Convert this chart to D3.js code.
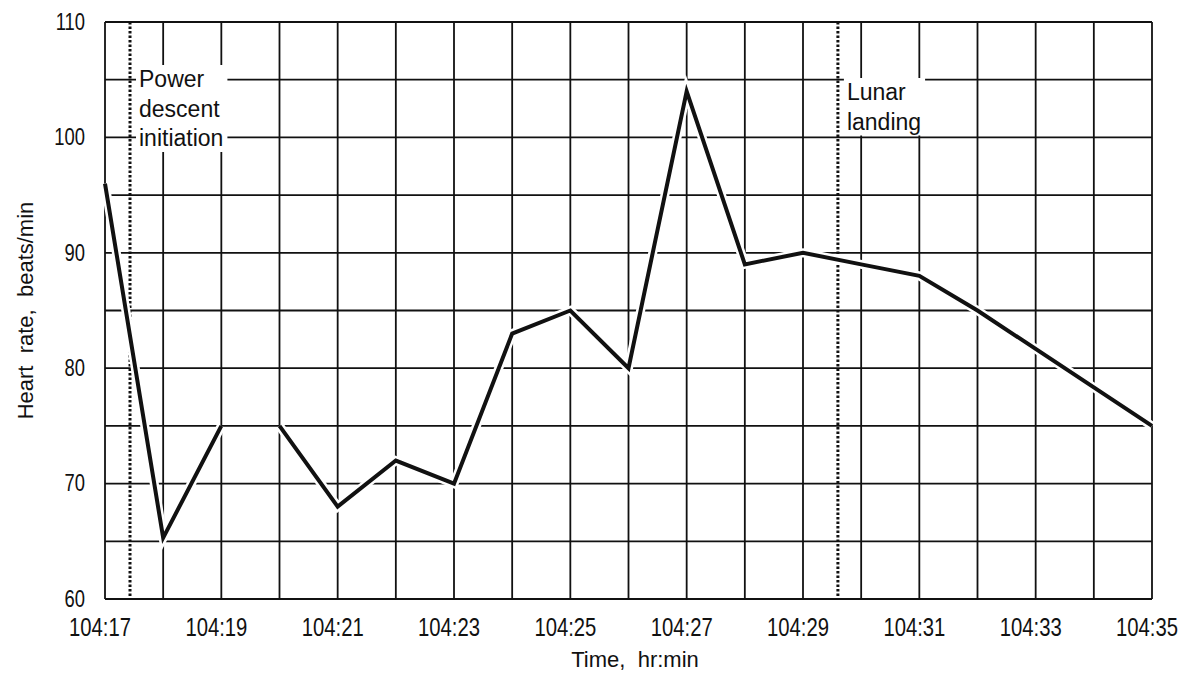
<!DOCTYPE html>
<html>
<head>
<meta charset="utf-8">
<script src="https://cdn.jsdelivr.net/npm/d3@7"></script>
<style>
  body { margin: 0; background: #fff; }
  text { font-family: "Liberation Sans", Arial, sans-serif; fill: #111; }
</style>
</head>
<body>
<div id="chart"></div>
<script>
// minutes past 104:17
const minutes = [0, 1, 2, 3, 4, 5, 6, 7, 8, 9, 10, 11, 12, 13, 14, 15, 18];
const heartRate = [96, 65.3, 75, 75, 68, 72, 70, 83, 85, 80, 104, 89, 90, 89, 88, 85, 75];
const gapAfter = 2; // no reading between 104:19 and 104:20
const xTickLabels = ["104:17", "104:19", "104:21", "104:23", "104:25", "104:27", "104:29", "104:31", "104:33", "104:35"];
const yTicks = [60, 70, 80, 90, 100, 110];
const eventTimes = [0.43, 12.6];
const eventLabels = [["Power", "descent", "initiation"], ["Lunar", "landing"]];

const data = minutes.map((m, i) => ({ m: m, v: heartRate[i] }));
data.splice(gapAfter + 1, 0, { m: gapAfter + 0.5, v: null });

let width = 1180, height = 675, margin = { top: 22, right: 28, bottom: 76, left: 105 };
let w = width - margin.left - margin.right, h = height - margin.top - margin.bottom;

let svg = d3.select("#chart").append("svg")
    .attr("width", width)
    .attr("height", height)
    .append("g")
    .attr("transform", `translate(${margin.left},${margin.top})`);

let x = d3.scaleLinear().domain([0, 18]).range([0, w]);
let y = d3.scaleLinear().domain([60, 110]).range([h, 0]);

// grid
svg.append("g").selectAll("line")
    .data(d3.range(0, 19))
    .enter().append("line")
    .attr("x1", d => x(d)).attr("x2", d => x(d))
    .attr("y1", 0).attr("y2", h)
    .attr("stroke", "#111").attr("stroke-width", 1.8);

svg.append("g").selectAll("line")
    .data(d3.range(60, 111, 5))
    .enter().append("line")
    .attr("x1", 0).attr("x2", w)
    .attr("y1", d => y(d)).attr("y2", d => y(d))
    .attr("stroke", "#111").attr("stroke-width", 1.8);

// event markers
let labelTop = [65, 78];
eventTimes.forEach((t0, k) => {
    svg.append("line")
        .attr("x1", x(t0)).attr("x2", x(t0))
        .attr("y1", 0).attr("y2", h)
        .attr("stroke", "#111").attr("stroke-width", 3)
        .attr("stroke-dasharray", "2.5,2");
    let g = svg.append("g").attr("transform", `translate(${x(t0) + 9},${labelTop[k]})`);
    let t = g.append("text").attr("font-size", 23);
    t.selectAll("tspan").data(eventLabels[k]).enter().append("tspan")
        .attr("x", 0).attr("dy", (d, i) => i === 0 ? 0 : 29.5)
        .text(d => d);
    let bb = t.node().getBBox();
    g.insert("rect", "text")
        .attr("x", bb.x - 3).attr("y", bb.y - 1)
        .attr("width", bb.width + 7).attr("height", bb.height + 2)
        .attr("fill", "#fff");
});

// data line with white halo
let line = d3.line()
    .defined(d => d.v !== null)
    .x(d => x(d.m))
    .y(d => y(d.v));

svg.append("path").datum(data)
    .attr("fill", "none").attr("stroke", "#fff").attr("stroke-width", 9)
    .attr("d", line);
svg.append("path").datum(data)
    .attr("fill", "none").attr("stroke", "#111").attr("stroke-width", 4)
    .attr("d", line);

// axes (narrow lettering like the original)
let xAxis = d3.axisBottom(x)
    .tickValues(d3.range(0, 19, 2))
    .tickFormat((d, i) => xTickLabels[i])
    .tickSize(0).tickPadding(19);
let gx = svg.append("g").attr("transform", `translate(0,${h})`).call(xAxis);
gx.select(".domain").remove();
gx.selectAll("text")
    .attr("font-size", 26).attr("fill", "#111")
    .attr("dx", -7)
    .attr("transform", "scale(0.78,1)");

let yAxis = d3.axisLeft(y).tickValues(yTicks).tickSize(0).tickPadding(25);
let gy = svg.append("g").call(yAxis);
gy.select(".domain").remove();
gy.selectAll("text")
    .attr("font-size", 23).attr("fill", "#111")
    .attr("transform", "scale(0.8,1)");

svg.append("text")
    .attr("x", 530).attr("y", h + 68)
    .attr("text-anchor", "middle").attr("font-size", 22)
    .style("white-space", "pre")
    .text("Time,  hr:min");

svg.append("text")
    .attr("transform", `translate(${-72},${h / 2}) rotate(-90)`)
    .attr("text-anchor", "middle").attr("font-size", 22)
    .style("white-space", "pre")
    .text("Heart  rate,  beats/min");
</script>
</body>
</html>
